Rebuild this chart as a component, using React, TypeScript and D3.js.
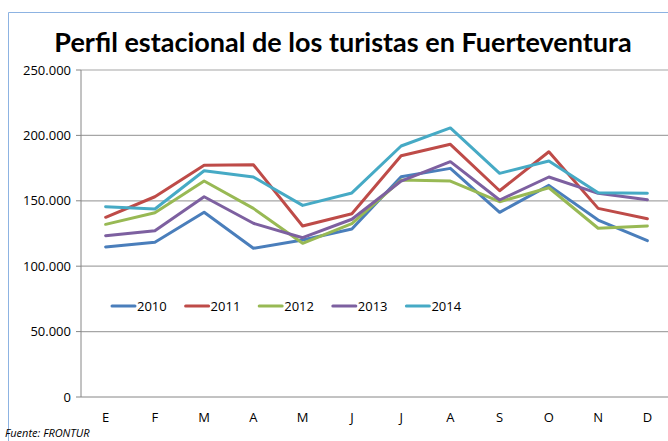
import React from 'react';
import * as d3 from 'd3';

// months (Spanish initials)
const months = ['E', 'F', 'M', 'A', 'M2', 'J', 'J2', 'A2', 'S', 'O', 'N', 'D'];
const monthLabels = ['E', 'F', 'M', 'A', 'M', 'J', 'J', 'A', 'S', 'O', 'N', 'D'];

const years = ['2010', '2011', '2012', '2013', '2014'];
const colors = ['#4A7EBB', '#BE4B48', '#98B954', '#7D60A0', '#46AAC5'];

const tur2010 = [114700, 118300, 141200, 113700, 120000, 128400, 168400, 174800, 141200, 161800, 135300, 119500];
const tur2011 = [137400, 153100, 177100, 177600, 130700, 140100, 184500, 193200, 157700, 187500, 144200, 136300];
const tur2012 = [132000, 140900, 165100, 144200, 117500, 132500, 165900, 165100, 149300, 160000, 129000, 130700];
const tur2013 = [123300, 127100, 153100, 132800, 121800, 135900, 165100, 179900, 150600, 168200, 155700, 150800];
const tur2014 = [145500, 143700, 173000, 168200, 146500, 156000, 191900, 205700, 171000, 180400, 156200, 155700];

const series = [tur2010, tur2011, tur2012, tur2013, tur2014];
const yTicks = [0, 50000, 100000, 150000, 200000, 250000];

const W = 668;
const H = 441;
const margin = { left: 81, top: 70, right: 672, bottom: 397 };
const font = '"Open Sans", sans-serif';

const fmt = (v: number) => (v === 0 ? '0' : d3.format(',')(v).replace(/,/g, '.'));

export default function App() {
  const x = d3.scaleBand().domain(months).range([margin.left, margin.right]);
  const y = d3.scaleLinear().domain([0, 250000]).range([margin.bottom, margin.top]);
  const line = d3
    .line<number>()
    .x((_, i) => (x(months[i]) as number) + x.bandwidth() / 2)
    .y((d) => y(d));

  return (
    <svg
      width={W}
      height={H}
      style={{ position: 'absolute', left: 0, top: 0, background: '#fff' }}
      fontFamily={font}
    >
      {/* outer chart border */}
      <path d={`M8.5,${H} V12.5 H${W}`} fill="none" stroke="#8DB3E2" strokeWidth={1} />

      <text x={343} y={52} textAnchor="middle" fontSize={27} fontWeight="bold" fill="#000" fontFamily="Lato, sans-serif">
        Perfil estacional de los turistas en Fuerteventura
      </text>

      {/* gridlines */}
      {yTicks.slice(1).map((t) => (
        <line key={t} x1={margin.left} x2={W} y1={y(t)} y2={y(t)} stroke="#A6A6A6" strokeWidth={1.2} />
      ))}
      {/* axes */}
      <line x1={margin.left} x2={margin.left} y1={margin.top} y2={margin.bottom} stroke="#868686" />
      <line x1={margin.left} x2={W} y1={margin.bottom} y2={margin.bottom} stroke="#868686" />
      {yTicks.map((t) => (
        <g key={'t' + t}>
          <line x1={margin.left - 5} x2={margin.left} y1={y(t)} y2={y(t)} stroke="#868686" />
          <text x={margin.left - 10} y={y(t)} dy="0.35em" textAnchor="end" fontSize={13} fill="#000">
            {fmt(t)}
          </text>
        </g>
      ))}
      {months.map((m, i) => (
        <text
          key={m}
          x={(x(m) as number) + x.bandwidth() / 2}
          y={417}
          dy="0.35em"
          textAnchor="middle"
          fontSize={13}
          fill="#000"
        >
          {monthLabels[i]}
        </text>
      ))}

      {/* series */}
      {series.map((s, i) => (
        <path
          key={years[i]}
          d={line(s) || ''}
          fill="none"
          stroke={colors[i]}
          strokeWidth={3}
          strokeLinejoin="round"
          strokeLinecap="round"
        />
      ))}

      {/* legend */}
      {years.map((yr, i) => (
        <g key={'l' + yr} transform={`translate(${112 + i * 73.6},306)`}>
          <line x1={0} x2={23} y1={0} y2={0} stroke={colors[i]} strokeWidth={3} strokeLinecap="round" />
          <text x={25} y={0} dy="0.35em" fontSize={13} fill="#000">
            {yr}
          </text>
        </g>
      ))}

      <text x={5} y={437} fontSize={11} fontStyle="italic" fill="#000">
        Fuente: FRONTUR
      </text>
    </svg>
  );
}
